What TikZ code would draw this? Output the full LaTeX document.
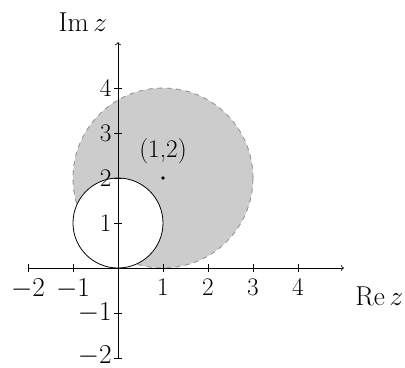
\documentclass[tikz,border=0pt]{standalone}
\usepackage{tikz}
\usetikzlibrary{positioning}
\definecolor{shade}{RGB}{204, 204, 204}
\definecolor{rim}{RGB}{150, 150, 150}

\begin{document}
\begin{tikzpicture}[
  axis/.style={->, line width=0.5pt},
  tickmark/.style={line width=0.5pt},
  ticklabel/.style={font=\fontsize{16}{19}\selectfont, inner sep=1pt},
  axislabel/.style={font=\fontsize{16.5}{20}\selectfont},
  region/.style={fill=shade, draw=rim, dashed},
  hole/.style={fill=white, draw=black, line width=0.5pt},
  point/.style={circle, fill=black, inner sep=0pt, minimum size=0.08cm}
]
\useasboundingbox (-2.622,-2.2) rectangle (6.378,5.956);
% disks
\fill[region] (1,2) circle (2);
\draw[region, fill=none] (1,2) circle (2);
\draw[hole] (0,1) circle (1);
% axes
\coordinate (xstart) at (-2,0);
\coordinate (xend) at (5.02,0);
\coordinate (ystart) at (0,-2);
\coordinate (yend) at (0,5.02);
\draw[axis] (xstart) -- (xend);
\draw[axis] (ystart) -- (yend);
\node[axislabel, below right=0.30cm and 0.13cm of xend] (rez) {$\mathrm{Re}\,z$};
\node[axislabel, above left=0.12cm and 0.12cm of yend] (imz) {$\mathrm{Im}\,z$};
% ticks on the real axis
\draw[tickmark] (-2,-0.09) -- (-2,0.09);
\draw[tickmark] (-1,-0.09) -- (-1,0.09);
\draw[tickmark] (1,-0.09) -- (1,0.09);
\draw[tickmark] (2,-0.09) -- (2,0.09);
\draw[tickmark] (3,-0.09) -- (3,0.09);
\draw[tickmark] (4,-0.09) -- (4,0.09);
\node[ticklabel, anchor=north] (xm2) at (-2,-0.19) {$-2$};
\node[ticklabel, anchor=north] (xm1) at (-1,-0.19) {$-1$};
\node[ticklabel, anchor=north] (x1) at (1,-0.19) {1};
\node[ticklabel, anchor=north] (x2) at (2,-0.19) {2};
\node[ticklabel, anchor=north] (x3) at (3,-0.19) {3};
\node[ticklabel, anchor=north] (x4) at (4,-0.19) {4};
% ticks on the imaginary axis
\draw[tickmark] (-0.09,-2) -- (0.09,-2);
\draw[tickmark] (-0.09,-1) -- (0.09,-1);
\draw[tickmark] (-0.09,1) -- (0.09,1);
\draw[tickmark] (-0.09,2) -- (0.09,2);
\draw[tickmark] (-0.09,3) -- (0.09,3);
\draw[tickmark] (-0.09,4) -- (0.09,4);
\node[ticklabel, anchor=east] (ym2) at (-0.10,-1.96) {$-2$};
\node[ticklabel, anchor=east] (ym1) at (-0.10,-1) {$-1$};
\node[ticklabel, anchor=east] (y1) at (-0.10,1) {1};
\node[ticklabel, anchor=east] (y2) at (-0.10,2) {2};
\node[ticklabel, anchor=east] (y3) at (-0.10,3) {3};
\node[ticklabel, anchor=east] (y4) at (-0.10,4) {4};
% centre of the large disk
\node[point] (centre) at (1,2) {};
\node[ticklabel, above=0.22cm of centre] (centrelabel) {(1,2)};
\end{tikzpicture}
\end{document}
